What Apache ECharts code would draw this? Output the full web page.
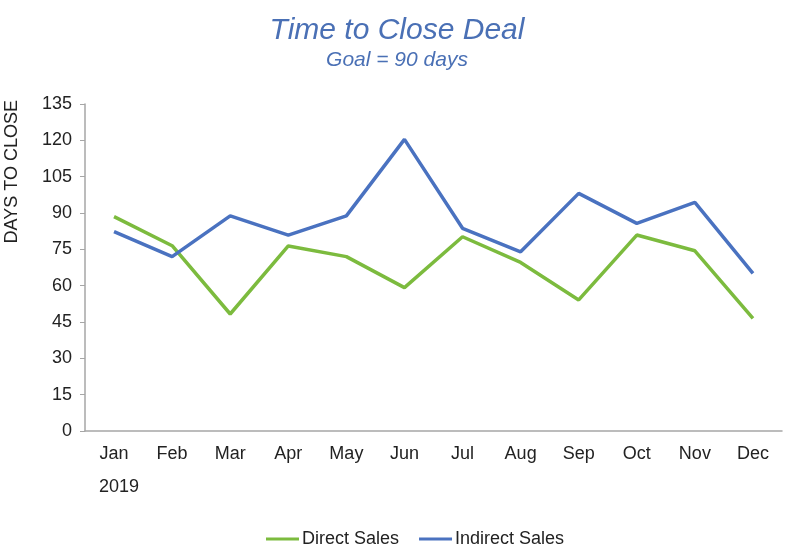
<!DOCTYPE html>
<html>
<head>
<meta charset="utf-8">
<script src="https://cdn.jsdelivr.net/npm/echarts@6/dist/echarts.min.js"></script>
<style>
html,body{margin:0;padding:0;background:#fff;}
#chart{width:794px;height:555px;}
</style>
</head>
<body>
<div id="chart"></div>
<script>
var months = ['Jan','Feb','Mar','Apr','May','Jun','Jul','Aug','Sep','Oct','Nov','Dec'];
var directSales = [88.5, 76.5, 48.3, 76.4, 72, 59.2, 80.2, 69.6, 54.1, 80.9, 74.4, 46.5];
var indirectSales = [82.3, 72, 88.8, 80.9, 88.8, 120.4, 83.7, 74, 98.1, 85.7, 94.4, 65.1];
var yearLabel = '2019';
var titleText = 'Time to Close Deal';
var subtitleText = 'Goal = 90 days';
var yAxisTitle = 'DAYS TO CLOSE';

var font = 'Liberation Sans, Arial, sans-serif';
var chart = echarts.init(document.getElementById('chart'), null, {renderer:'canvas'});
chart.setOption({
  animation: false,
  backgroundColor: '#fff',
  title: {
    text: titleText,
    subtext: subtitleText,
    left: 'center',
    top: 11,
    itemGap: 4,
    textStyle: {fontFamily: font, fontStyle: 'italic', fontWeight: 'normal', fontSize: 30, color: '#4a70b5'},
    subtextStyle: {fontFamily: font, fontStyle: 'italic', fontSize: 21, color: '#4a70b5'}
  },
  grid: {left: 85, right: 12, top: 104, bottom: 124, containLabel: false},
  legend: {
    bottom: 2,
    left: 261,
    itemWidth: 33,
    itemHeight: 3,
    itemGap: 20,
    icon: 'rect',
    textStyle: {fontFamily: font, fontSize: 18, color: '#222', padding: [0,0,0,-2]},
    data: ['Direct Sales', 'Indirect Sales']
  },
  xAxis: {
    type: 'category',
    data: months,
    boundaryGap: true,
    axisLine: {lineStyle: {color: '#a6a6a6', width: 1.5}},
    axisTick: {show: false},
    axisLabel: {fontFamily: font, fontSize: 18, color: '#222', margin: 14}
  },
  yAxis: {
    type: 'value',
    min: 0,
    max: 135,
    interval: 15,
    splitLine: {show: false},
    axisLine: {show: true, lineStyle: {color: '#a6a6a6', width: 1.5}},
    axisTick: {show: true, length: 5, lineStyle: {color: '#a6a6a6'}},
    axisLabel: {fontFamily: font, fontSize: 18, color: '#222', margin: 13}
  },
  graphic: [
    {type: 'text', left: 3, top: 100, rotation: Math.PI/2,
     style: {text: yAxisTitle, fontFamily: font, fontSize: 18, fill: '#222'}},
    {type: 'text', left: 99, top: 478,
     style: {text: yearLabel, fontFamily: font, fontSize: 18, fill: '#222'}}
  ],
  series: [
    {name: 'Direct Sales', type: 'line', data: directSales, symbol: 'none',
     lineStyle: {width: 3.5, color: '#7cbb3e'}, itemStyle: {color: '#7cbb3e'}},
    {name: 'Indirect Sales', type: 'line', data: indirectSales, symbol: 'none',
     lineStyle: {width: 3.5, color: '#4a72c0'}, itemStyle: {color: '#4a72c0'}}
  ]
});
</script>
</body>
</html>
